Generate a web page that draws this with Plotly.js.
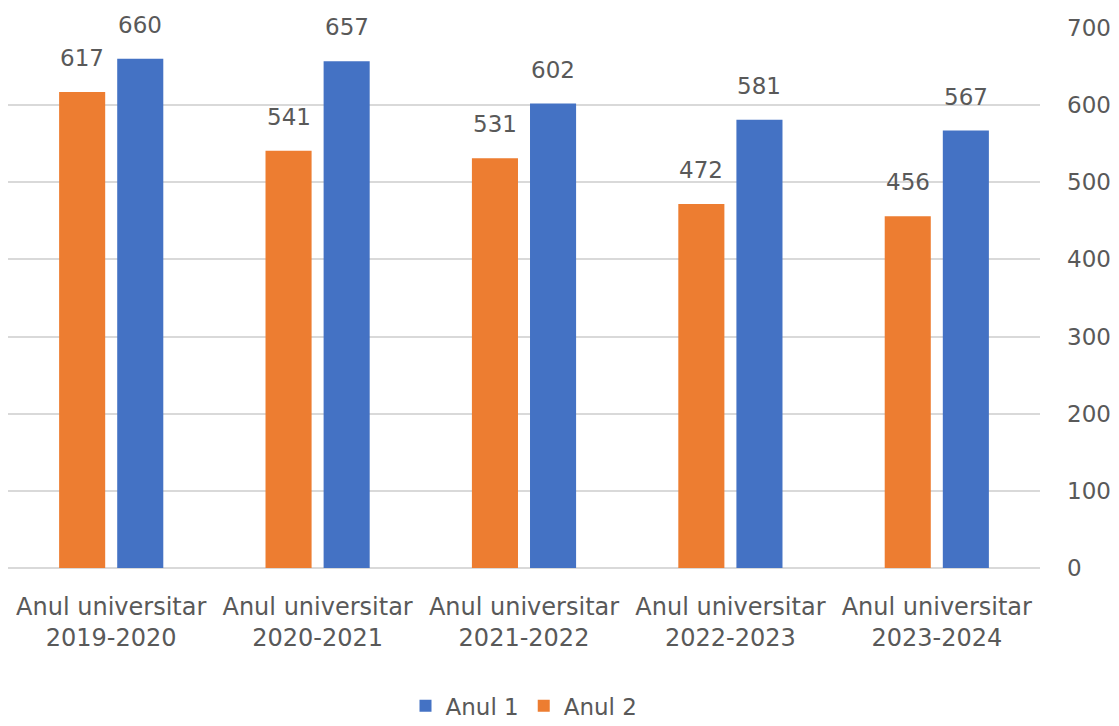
<!DOCTYPE html>
<html>
<head>
<meta charset="utf-8">
<script src="https://cdn.plot.ly/plotly-3.0.1.min.js"></script>
<style>html,body{margin:0;padding:0;background:#fff;}#chart{width:1119px;height:726px;}</style>
</head>
<body>
<div id="chart"></div>
<script>
const categories = [
  "Anul universitar<br>2019-2020",
  "Anul universitar<br>2020-2021",
  "Anul universitar<br>2021-2022",
  "Anul universitar<br>2022-2023",
  "Anul universitar<br>2023-2024"
];
const anul1 = [660, 657, 602, 581, 567];
const anul2 = [617, 541, 531, 472, 456];
const yTicks = [0, 100, 200, 300, 400, 500, 600, 700];

const FONT = "DejaVu Sans";
const GREY = "#595959";
const BLUE = "#4472C4";
const ORANGE = "#ED7D31";

const traces = [
  {type: "bar", name: "Anul 2", x: categories, y: anul2, marker: {color: ORANGE}, legendrank: 2, hoverinfo: "y"},
  {type: "bar", name: "Anul 1", x: categories, y: anul1, marker: {color: BLUE}, legendrank: 1, hoverinfo: "y"}
];

const annotations = [];
categories.forEach((c, i) => {
  annotations.push({x: c, y: anul2[i], xref: "x", yref: "y", text: String(anul2[i]), showarrow: false,
    xanchor: "center", yanchor: "bottom", xshift: -29, yshift: 19, font: {family: FONT, size: 23, color: GREY}});
  annotations.push({x: c, y: anul1[i], xref: "x", yref: "y", text: String(anul1[i]), showarrow: false,
    xanchor: "center", yanchor: "bottom", xshift: 29, yshift: 19, font: {family: FONT, size: 23, color: GREY}});
});

const layout = {
  width: 1119, height: 726,
  margin: {l: 8, r: 79, t: 28, b: 158, autoexpand: false},
  paper_bgcolor: "#fff", plot_bgcolor: "#fff",
  barmode: "group", bargap: 0.437, bargroupgap: 0.207,
  font: {family: FONT, size: 23, color: GREY},
  showlegend: true,
  legend: {orientation: "h", x: 0.5, xanchor: "center", y: -0.255, yanchor: "middle",
    font: {family: FONT, size: 23, color: GREY}, itemclick: false},
  xaxis: {type: "category", showgrid: false, showline: false, zeroline: false, ticks: "", automargin: false,
    tickfont: {family: FONT, size: 24, color: GREY}, ticklabelstandoff: 22, fixedrange: true},
  yaxis: {side: "right", range: [0, 700], tickvals: yTicks, ticktext: yTicks.map(String), automargin: false,
    showgrid: true, gridcolor: "#d9d9d9", gridwidth: 2, zeroline: true, zerolinecolor: "#d9d9d9", zerolinewidth: 2,
    showline: false, ticks: "", ticklabelstandoff: 26, tickfont: {family: FONT, size: 23, color: GREY}, fixedrange: true},
  annotations: annotations
};

Plotly.newPlot("chart", traces, layout, {displayModeBar: false, staticPlot: true});
</script>
</body>
</html>
